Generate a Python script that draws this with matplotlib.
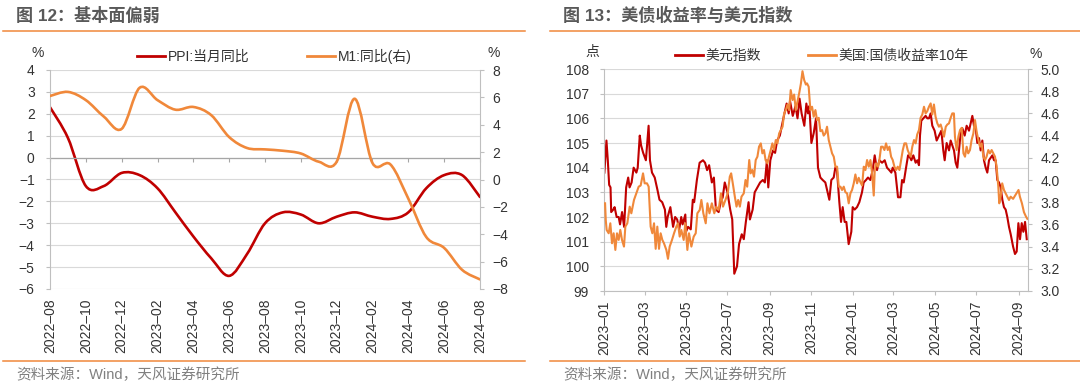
import numpy as np
import pandas as pd
import matplotlib
matplotlib.use('Agg')
import matplotlib.pyplot as plt
from matplotlib.path import Path
from matplotlib.patches import PathPatch
from matplotlib.lines import Line2D

plt.rcParams['font.family'] = ['Liberation Sans', 'Noto Sans CJK SC']
plt.rcParams['axes.unicode_minus'] = True

# ---- 图12 数据 (月度)
months = ['2022-08', '2022-09', '2022-10', '2022-11', '2022-12', '2023-01', '2023-02',
          '2023-03', '2023-04', '2023-05', '2023-06', '2023-07', '2023-08', '2023-09',
          '2023-10', '2023-11', '2023-12', '2024-01', '2024-02', '2024-03', '2024-04',
          '2024-05', '2024-06', '2024-07', '2024-08']
ppi = [2.3, 0.9, -1.3, -1.3, -0.7, -0.8, -1.4, -2.5, -3.6, -4.6, -5.4, -4.4, -3.0,
       -2.5, -2.6, -3.0, -2.7, -2.5, -2.7, -2.8, -2.5, -1.4, -0.8, -0.8, -1.8]
m1 = [6.1, 6.4, 5.8, 4.6, 3.7, 6.7, 5.8, 5.1, 5.3, 4.7, 3.1, 2.3, 2.2, 2.1, 1.9, 1.3,
      1.3, 5.9, 1.2, 1.1, -1.4, -4.2, -5.0, -6.6, -7.3]

# ---- 图13 数据 (日期 = 2023-01-01 起的天数)
dxy_day = [0, 3, 5, 7, 9, 10, 13, 15, 18, 21, 23, 26, 29, 32, 35, 37, 40, 43, 47, 49, 52, 54,
           57, 61, 65, 67, 70, 74, 78, 81, 85, 89, 91, 93, 97, 101, 104, 107, 110, 113, 115,
           119, 120, 123, 127, 130, 132, 136, 140, 145, 148, 151, 154, 158, 161, 164, 168,
           171, 174, 177, 181, 185, 188, 191, 195, 198, 202, 205, 208, 212, 214, 218, 221,
           225, 229, 233, 236, 239, 241, 244, 248, 251, 254, 258, 261, 264, 268, 271, 273,
           277, 281, 284, 287, 290, 294, 297, 299.4, 301.4, 304.4, 307.8, 311.2, 314.1,
           317.6, 321, 324.9, 327.4, 330.8, 333.7, 337.2, 339.6, 342, 345.5, 348, 350.4,
           353.3, 355.8, 359.2, 363.1, 365.1, 368, 371.5, 374.9, 378.8, 381.3, 384.7, 387.6,
           391.1, 394.5, 397.5, 400.9, 404.3, 408.3, 412.2, 415.6, 419, 422, 424, 427.9,
           431.8, 435.3, 437.7, 440.2, 443.6, 446.6, 447.9, 451.4, 454.3, 457.7, 460.2,
           462.6, 464.1, 466, 469, 472.4, 474.9, 477.3, 479.8, 482.2, 485.6, 488.6, 492,
           495.5, 498.4, 500.4, 503.3, 506.8, 509.2, 511.7, 514.1, 516.6, 519, 521.5, 523.9,
           526.4, 529.8, 532.7, 536.2, 538.6, 541.1, 543.5, 546, 548.4, 550.9, 553.3, 555.8,
           558.2, 560.7, 563.1, 565.6, 568, 570.5, 573, 575.4, 577.8, 580.3, 582.7, 585.2,
           587.6, 590.1, 592.5, 595, 597.5, 598.9, 601, 603.8, 606.3, 608.8, 611.2, 613.7,
           616.1, 618.6, 621.1]
dxy_val = [103.8, 105.1, 104.3, 103.3, 103.2, 102.2, 102.3, 102.4, 102.0, 102.0, 101.7, 102.2,
           101.6, 103.2, 103.6, 103.2, 103.4, 104.0, 103.8, 104.0, 105.3, 104.9, 104.6, 104.3,
           105.7, 104.3, 103.8, 103.6, 103.1, 102.7, 102.6, 102.3, 101.6, 102.0, 102.4, 101.6,
           102.0, 101.9, 101.5, 102.0, 101.7, 102.1, 101.4, 101.6, 101.5, 102.7, 102.6, 103.5,
           104.2, 104.3, 104.2, 103.9, 104.1, 103.4, 103.6, 102.3, 102.2, 102.6, 102.8, 103.4,
           103.0, 102.3, 101.9, 99.7, 100.0, 100.9, 101.3, 101.1, 101.8, 102.6, 101.9, 102.3,
           103.0, 103.2, 103.4, 103.5, 103.4, 104.3, 103.2, 104.3, 104.7, 104.6, 105.1, 105.3,
           105.7, 106.1, 106.6, 106.2, 106.7, 106.1, 106.5, 106.0, 106.8, 106.2, 105.7, 106.6,
           106.2, 106.5, 105.0, 105.4, 106.0, 104.0, 103.6, 103.5, 103.4, 103.1, 102.7, 103.5,
           103.6, 104.0, 103.9, 102.6, 101.8, 102.4, 101.8, 101.8, 100.9, 101.4, 102.4, 102.3,
           102.4, 102.6, 103.0, 103.4, 103.5, 103.6, 103.5, 103.9, 104.5, 103.9, 104.3, 104.2,
           104.3, 104.0, 103.9, 103.8, 104.0, 103.8, 102.8, 102.8, 103.5, 103.4, 104.0, 104.5,
           104.5, 104.3, 104.5, 104.2, 104.3, 104.1, 105.3, 105.9, 106.0, 106.1, 106.0, 106.0,
           106.2, 105.7, 105.5, 105.1, 105.3, 105.5, 104.7, 104.3, 105.0, 104.7, 105.1, 104.9,
           104.7, 104.2, 104.0, 104.7, 105.4, 105.6, 105.3, 105.7, 105.5, 105.8, 106.1, 105.7,
           105.6, 105.0, 105.2, 104.7, 105.1, 104.3, 104.0, 103.8, 104.3, 104.4, 104.5, 104.3,
           104.3, 103.5, 103.4, 103.2, 102.7, 102.4, 102.3, 102.0, 101.6, 101.3, 101.1, 100.8,
           100.5, 100.6, 101.75, 101.1, 101.75, 101.4, 101.8, 101.1]

ust_day = [1, 2, 3.3, 6.3, 8.7, 11.2, 13.6, 16.1, 18.5, 21, 23.4, 25.9, 28.8, 30.8, 33.7, 37.2,
           39.6, 43.5, 47, 50.4, 53.3, 56.8, 59.2, 62.6, 65.1, 68, 70.5, 73, 75.4, 77.8, 80.3,
           82.7, 85.2, 87.6, 91.1, 93.5, 96, 99.4, 102.4, 105.8, 108.2, 110.7, 113.1, 116.6,
           119, 122, 124.4, 127.9, 131.3, 134.3, 136.7, 140.2, 142.6, 145.5, 149, 151.5, 154.5,
           158, 161.6, 164.5, 168, 171.4, 174.4, 178, 181.4, 184.4, 186.4, 188.8, 191.8, 194.3,
           196.7, 199.2, 201.6, 205, 207.5, 210, 213, 215, 217.5, 220, 222.5, 225, 227.4, 230,
           232.3, 234.7, 237, 239.7, 242, 244.6, 247, 249.5, 252, 254.5, 257, 259.4, 262,
           264.3, 266.8, 269.3, 271.7, 274, 276.6, 279, 281.5, 284, 286.4, 289, 291.3, 293.8,
           296.3, 298, 300.4, 302.9, 305.4, 307.8, 310.3, 312.7, 315.2, 317.6, 320.1, 322.5,
           325, 327.4, 329.9, 332.4, 334.8, 337.3, 339.7, 342.2, 344.6, 347.1, 349.5, 352,
           354.4, 356.9, 359.3, 361.8, 364.2, 366.7, 369.1, 371.6, 374, 376.5, 379, 381.4,
           383.9, 386.3, 388.8, 391.2, 393.7, 396.1, 397.6, 399.5, 402.5, 404.4, 406.9, 409.3,
           411.8, 414.2, 416.7, 419.1, 421.6, 424, 426.5, 429, 431.4, 433.9, 436.3, 438.8,
           441.2, 443.7, 446, 448, 450.4, 452.8, 455.3, 457.7, 460, 462.6, 465, 467.5, 470,
           472.4, 474.8, 477.3, 479.8, 482.2, 484.6, 487, 489.6, 492, 494.5, 497, 499.4, 502,
           504.3, 506.7, 509.2, 511.6, 514, 515.5, 518, 520.5, 523, 525.4, 528, 530.3, 532.7,
           535, 537.6, 540, 542.6, 545, 547.5, 550, 552.4, 554.8, 557.3, 559.7, 562, 564.6,
           567, 569.5, 572, 574.4, 576.8, 579.3, 580.7, 582.7, 585, 587.6, 590, 592.5, 595,
           597.4, 601, 606, 609, 611, 614, 617, 620, 622]
ust_val = [3.79, 3.64, 3.55, 3.52, 3.61, 3.43, 3.52, 3.37, 3.52, 3.46, 3.55, 3.46, 3.40, 3.58,
           3.61, 3.76, 3.70, 3.82, 3.88, 3.94, 3.95, 4.06, 3.97, 3.97, 3.94, 3.58, 3.52, 3.61,
           3.38, 3.58, 3.38, 3.52, 3.46, 3.43, 3.37, 3.29, 3.40, 3.46, 3.52, 3.58, 3.61, 3.49,
           3.55, 3.46, 3.61, 3.37, 3.52, 3.40, 3.49, 3.52, 3.70, 3.73, 3.82, 3.70, 3.61, 3.79,
           3.70, 3.79, 3.70, 3.76, 3.73, 3.88, 3.76, 3.82, 3.88, 4.03, 4.06, 3.97, 3.85, 3.76,
           3.82, 3.76, 3.85, 3.88, 4.00, 3.94, 4.18, 4.06, 4.09, 4.03, 4.18, 4.21, 4.30, 4.33,
           4.24, 4.27, 4.18, 4.15, 4.21, 4.27, 4.33, 4.27, 4.36, 4.33, 4.42, 4.45, 4.48, 4.60,
           4.63, 4.68, 4.63, 4.81, 4.72, 4.77, 4.63, 4.71, 4.78, 4.87, 4.98, 4.90, 4.86, 4.87,
           4.84, 4.63, 4.66, 4.57, 4.63, 4.54, 4.56, 4.44, 4.45, 4.40, 4.42, 4.48, 4.36, 4.30,
           4.24, 4.21, 4.12, 4.12, 3.94, 3.94, 3.91, 3.94, 3.89, 3.88, 3.79, 3.88, 3.91, 3.97,
           4.05, 3.97, 4.02, 3.98, 3.95, 4.12, 4.09, 4.18, 4.12, 4.18, 4.06, 3.86, 4.09, 4.15,
           4.12, 4.18, 4.30, 4.30, 4.27, 4.33, 4.27, 4.30, 4.21, 4.18, 4.12, 4.09, 4.12, 4.09,
           4.18, 4.27, 4.33, 4.33, 4.27, 4.24, 4.21, 4.30, 4.36, 4.33, 4.41, 4.45, 4.56, 4.59,
           4.66, 4.60, 4.62, 4.66, 4.69, 4.59, 4.68, 4.57, 4.51, 4.48, 4.50, 4.45, 4.39, 4.48,
           4.50, 4.51, 4.56, 4.60, 4.60, 4.39, 4.27, 4.39, 4.45, 4.47, 4.24, 4.21, 4.30, 4.24,
           4.27, 4.36, 4.42, 4.54, 4.43, 4.36, 4.30, 4.33, 4.21, 4.18, 4.21, 4.27, 4.24, 4.27,
           4.24, 4.21, 4.12, 3.94, 3.79, 3.85, 3.97, 3.91, 3.88, 3.85, 3.82, 3.85, 3.83, 3.88,
           3.91, 3.85, 3.79, 3.71, 3.67, 3.65]

RED = '#C00000'
ORANGE = '#F0883A'
GRID = '#D9D9D9'
AXC = '#BFBFBF'
TXT = '#333333'
W, H = 1080, 387


def smooth_path(x, y):
    # 类似Excel平滑线: Catmull-Rom 转三次贝塞尔
    p = np.column_stack([x, y]).astype(float)
    n = len(p)
    verts = [p[0]]
    codes = [Path.MOVETO]
    for i in range(n - 1):
        p0 = p[i - 1] if i > 0 else p[i]
        p3 = p[i + 2] if i + 2 < n else p[i + 1]
        verts += [p[i] + (p[i + 1] - p0) / 6, p[i + 1] - (p3 - p[i]) / 6, p[i + 1]]
        codes += [Path.CURVE4] * 3
    return Path(verts, codes)


def fx(px):
    return px / W


def fy(py):
    return 1 - py / H


fig = plt.figure(figsize=(10.8, 3.87), dpi=100)

# 标题和分隔线
fig.text(fx(16), fy(15), '图 12：基本面偏弱', fontsize=12.3, weight='bold', color='#595959', va='center')
fig.text(fx(563), fy(15), '图 13：美债收益率与美元指数', fontsize=12.3, weight='bold', color='#595959', va='center')
for x0, x1 in [(3, 525), (550, 1080)]:
    fig.add_artist(Line2D([fx(x0), fx(x1)], [fy(30.5)] * 2, color=ORANGE, lw=1.1))
    fig.add_artist(Line2D([fx(x0), fx(x1)], [fy(361)] * 2, color=ORANGE, lw=1.1))
fig.text(fx(16), fy(375), '资料来源：Wind，天风证券研究所', fontsize=10.5, color='#808080', va='center')
fig.text(fx(563), fy(375), '资料来源：Wind，天风证券研究所', fontsize=10.5, color='#808080', va='center')


def style_axes(ax, axr):
    for a in (ax, axr):
        for s in a.spines.values():
            s.set_visible(False)
    ax.spines['left'].set_visible(True)
    ax.spines['left'].set_color(AXC)
    axr.spines['right'].set_visible(True)
    axr.spines['right'].set_color(AXC)
    ax.grid(axis='y', color=GRID, lw=0.8)
    ax.set_axisbelow(True)
    ax.tick_params(axis='y', direction='out', length=3, color=AXC, labelcolor=TXT, labelsize=10, pad=8)
    axr.tick_params(axis='y', direction='out', length=3, color=AXC, labelcolor=TXT, labelsize=10, pad=6)


# ---- 左图
ax1 = fig.add_axes([fx(50), fy(289), fx(430), 219 / H])
ax1r = ax1.twinx()
idx = np.arange(len(months))
ax1.add_patch(PathPatch(smooth_path(idx, ppi), fill=False, ec=RED, lw=1.9, joinstyle='round', capstyle='round'))
ax1r.add_patch(PathPatch(smooth_path(idx, m1), fill=False, ec=ORANGE, lw=1.9, joinstyle='round', capstyle='round'))
ax1.set_xlim(0, 24)
ax1.set_ylim(-6, 4)
ax1.set_yticks(range(-6, 5))
ax1r.set_ylim(-8, 8)
ax1r.set_yticks(range(-8, 9, 2))
style_axes(ax1, ax1r)
ax1.set_xticks(idx[::2])
ax1.set_xticklabels([m.replace('-', '\u2013') for m in months[::2]], rotation=90)
ax1.tick_params(axis='x', length=0, labelsize=10, labelcolor=TXT, pad=7)
# 0 轴: 横轴穿过0, 刻度线向下
ax1.axhline(0, color='#A6A6A6', lw=0.9, zorder=1)
zero_ax = ax1.secondary_xaxis(0.6)
zero_ax.set_xticks(idx[::2])
zero_ax.tick_params(axis='x', which='both', top=True, bottom=False, direction='in', length=3,
                    color='#A6A6A6', labelbottom=False, labeltop=False)
for s in zero_ax.spines.values():
    s.set_visible(False)
fig.text(fx(38), fy(53), '%', fontsize=10, color=TXT, ha='center', va='center')
fig.text(fx(494), fy(53), '%', fontsize=10, color=TXT, ha='center', va='center')
fig.legend([Line2D([], [], color=RED, lw=2), Line2D([], [], color=ORANGE, lw=2)],
           ['PPI:当月同比', 'M1:同比(右)'], loc='upper left', bbox_to_anchor=(fx(130), fy(42)),
           ncol=2, frameon=False, borderpad=0, handlelength=2.0, handletextpad=0.2,
           columnspacing=4.2, fontsize=10, labelcolor=TXT)

# ---- 右图
base = pd.Timestamp('2023-01-01')
dxy_dates = base + pd.to_timedelta(dxy_day, unit='D')
ust_dates = base + pd.to_timedelta(ust_day, unit='D')
ax2 = fig.add_axes([fx(604.4), fy(291), fx(423.3), 222 / H])
ax2r = ax2.twinx()
ax2.plot(dxy_dates, dxy_val, color=RED, lw=1.5)
ax2r.plot(ust_dates, ust_val, color=ORANGE, lw=1.5)
ax2.set_xlim(base, base + pd.Timedelta(days=622.5))
ax2.set_ylim(99, 108)
ax2.set_yticks(range(99, 109))
ax2r.set_ylim(3.0, 5.0)
ax2r.set_yticks(np.arange(3.0, 5.01, 0.2))
ax2r.set_yticklabels(['%.1f' % v for v in np.arange(3.0, 5.01, 0.2)])
style_axes(ax2, ax2r)
ax2.spines['bottom'].set_visible(True)
ax2.spines['bottom'].set_color(AXC)
ticks = pd.date_range('2023-01-01', '2024-09-01', freq='2MS')
ax2.set_xticks(ticks)
ax2.set_xticklabels([t.strftime('%Y') + '\u2013' + t.strftime('%m') for t in ticks], rotation=90)
ax2.tick_params(axis='x', direction='out', length=3, color=AXC, labelsize=10, labelcolor=TXT, pad=4)
fig.text(fx(592), fy(52), '点', fontsize=10, color=TXT, ha='center', va='center')
fig.text(fx(1036), fy(54), '%', fontsize=10, color=TXT, ha='center', va='center')
fig.legend([Line2D([], [], color=RED, lw=2), Line2D([], [], color=ORANGE, lw=2)],
           ['美元指数', '美国:国债收益率10年'], loc='upper left', bbox_to_anchor=(fx(668), fy(42)),
           ncol=2, frameon=False, borderpad=0, handlelength=2.0, handletextpad=0.2,
           columnspacing=3.4, fontsize=10, labelcolor=TXT)

fig.savefig('out.png', dpi=100)
